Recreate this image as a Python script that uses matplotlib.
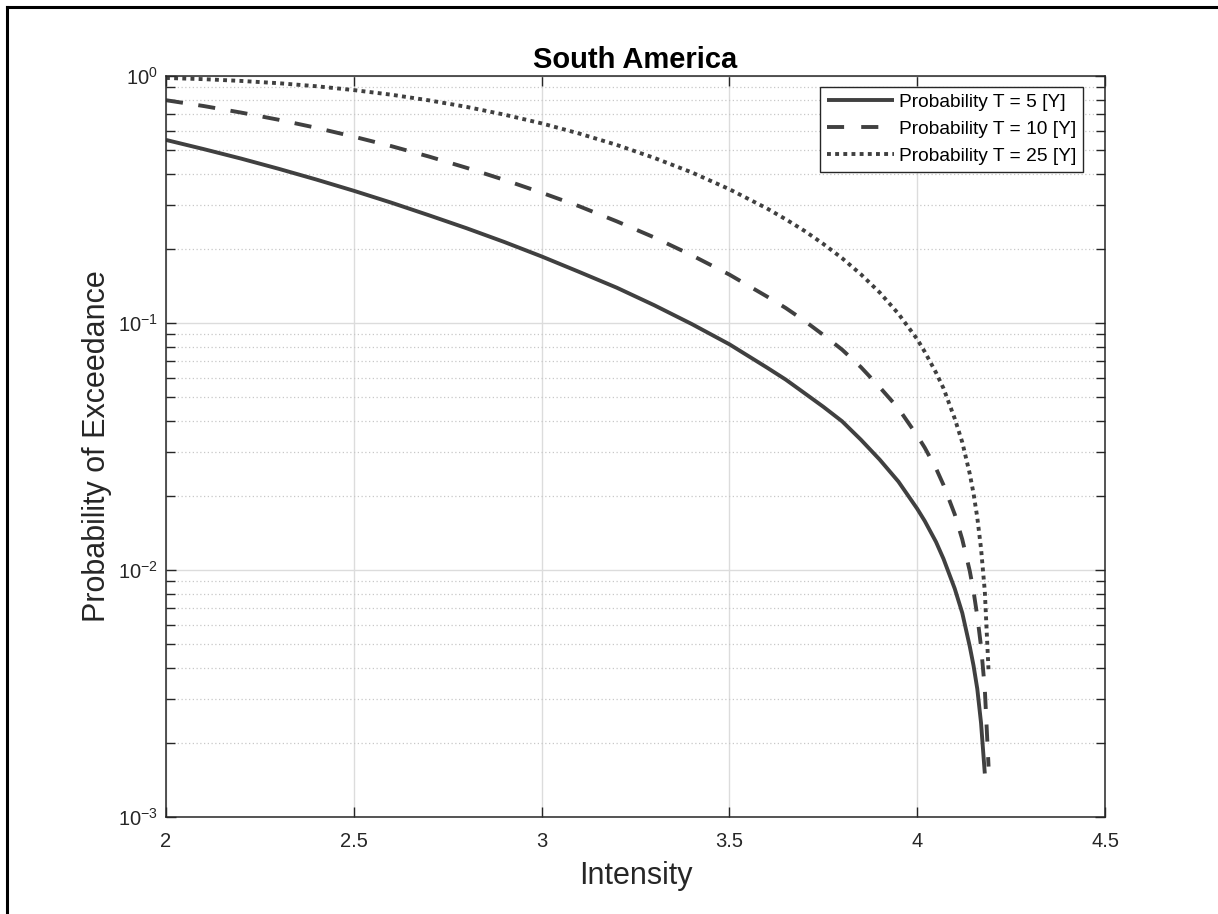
import math

import matplotlib
matplotlib.use("Agg")
import matplotlib.pyplot as plt
import matplotlib.ticker as ticker
from matplotlib.lines import Line2D

plt.rcParams["font.family"] = ["Liberation Sans", "DejaVu Sans"]
plt.rcParams["mathtext.fontset"] = "custom"
plt.rcParams["mathtext.rm"] = "Liberation Sans"
plt.rcParams["mathtext.it"] = "Liberation Sans"

# values
intensity = [2.0, 2.1, 2.2, 2.3, 2.4, 2.5, 2.6, 2.7, 2.8, 2.9, 3.0,
             3.1, 3.2, 3.3, 3.4, 3.5, 3.6, 3.65, 3.7, 3.75, 3.8, 3.85, 3.9, 3.95, 4.0,
             4.02, 4.05, 4.07, 4.1, 4.12, 4.14, 4.15, 4.16, 4.17, 4.18, 4.19]

prob_t5 = [0.551, 0.506, 0.463, 0.421, 0.381, 0.343, 0.307, 0.273, 0.242, 0.213, 0.186,
           0.161, 0.139, 0.118, 0.099, 0.082, 0.066, 0.059, 0.052, 0.0458, 0.040, 0.0337,
           0.028, 0.0228, 0.0177,
           0.0158, 0.0130, 0.0111, 0.0084, 0.0067, 0.0049, 0.0041, 0.0033, 0.0024, 0.0015, None]
prob_t10 = [0.798, 0.756, 0.711, 0.665, 0.617, 0.568, 0.520, 0.472, 0.425, 0.380, 0.337,
            0.297, 0.258, 0.222, 0.188, 0.157, 0.128, 0.115, 0.102, 0.0895, 0.078, 0.0663,
            0.055, 0.0451, 0.035,
            0.0313, 0.0258, 0.0221, 0.0168, 0.0133, 0.0099, 0.0082, 0.0065, 0.0049, 0.0033, 0.0016]
prob_t25 = [0.982, 0.971, 0.955, 0.935, 0.909, 0.877, 0.840, 0.797, 0.750, 0.698, 0.643,
            0.585, 0.526, 0.466, 0.407, 0.348, 0.291, 0.263, 0.236, 0.209, 0.183, 0.1575,
            0.133, 0.109, 0.086,
            0.0765, 0.063, 0.0544, 0.041, 0.0329, 0.0245, 0.0204, 0.0163, 0.0122, 0.0082, 0.0039]

series = [
    ("Probability T = 5 [Y]", prob_t5, "-"),
    ("Probability T = 10 [Y]", prob_t10, (0, (4.4, 4.0))),
    ("Probability T = 25 [Y]", prob_t25, (0, (1.0, 1.1))),
]

xticks = [2, 2.5, 3, 3.5, 4, 4.5]
xticklabels = ["2", "2.5", "3", "3.5", "4", "4.5"]

line_col = "#404040"
axis_col = "#262626"

fig = plt.figure(figsize=(12.18, 9.14), dpi=100)
ax = fig.add_axes([166 / 1218, 97 / 914, 939 / 1218, 741 / 914])

for label, vals, ls in series:
    xs = [x for x, v in zip(intensity, vals) if v is not None]
    ys = [v for v in vals if v is not None]
    ax.plot(xs, ys, color=line_col, linewidth=2.8, linestyle=ls, label=label,
            solid_capstyle="butt", dash_capstyle="butt", solid_joinstyle="round")

ax.set_yscale("log")
ax.set_xlim(2, 4.5)
ax.set_ylim(1e-3, 1)
ax.set_xticks(xticks)
ax.set_xticklabels(xticklabels)
ax.yaxis.set_major_locator(ticker.LogLocator(base=10, numticks=10))
ax.yaxis.set_minor_locator(ticker.LogLocator(base=10, subs=range(2, 10), numticks=20))
ax.yaxis.set_minor_formatter(ticker.NullFormatter())
ax.yaxis.set_major_formatter(ticker.FuncFormatter(
    lambda y, _: r"$\mathregular{10^{%d}}$" % round(math.log10(y))))

ax.grid(True, which="major", color="#dcdcdc", linewidth=1.0, linestyle="-")
ax.grid(True, which="minor", axis="y", color="#c8c8c8", linewidth=0.9, linestyle=(0, (1, 2)))
ax.set_axisbelow(True)

ax.tick_params(which="both", direction="in", top=True, right=True, colors=axis_col,
               labelcolor=axis_col, labelsize=14.5, width=1.0)
ax.tick_params(which="major", length=7)
ax.tick_params(which="minor", length=6.5)
ax.tick_params(axis="x", pad=11)
ax.tick_params(axis="y", pad=6)
for s in ax.spines.values():
    s.set_color(axis_col)
    s.set_linewidth(1.1)

ax.set_title("South America", fontsize=21, fontweight="bold", color="black", pad=6)
ax.set_xlabel("Intensity", fontsize=22, color=axis_col, labelpad=7)
ax.set_ylabel("Probability of Exceedance", fontsize=22, color=axis_col, labelpad=4)

leg = ax.legend(loc="upper right", bbox_to_anchor=(1 - 22 / 939, 1 - 11 / 741),
                fontsize=13.8, frameon=True, fancybox=False, framealpha=1,
                edgecolor=axis_col, handlelength=3.5, handletextpad=0.25,
                labelspacing=0.5, borderpad=0.35, borderaxespad=0)
leg.get_frame().set_linewidth(1.0)
leg.get_lines()[1].set_linestyle((0, (4.4, 4.4)))

# outer frame (top and left edges visible in the reference)
fig.add_artist(Line2D([7 / 1218, 1.0], [1 - 7 / 914, 1 - 7 / 914], color="black",
                      linewidth=2.2, transform=fig.transFigure))
fig.add_artist(Line2D([7 / 1218, 7 / 1218], [0, 1 - 7 / 914], color="black",
                      linewidth=2.2, transform=fig.transFigure))

fig.savefig("out.png", dpi=100)
